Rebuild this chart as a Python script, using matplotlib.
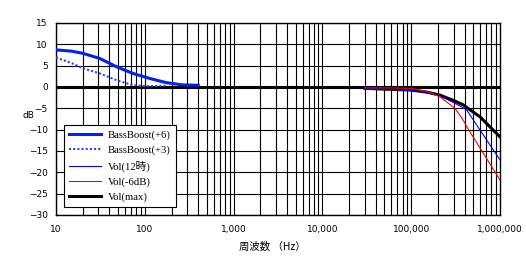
import numpy as np
import matplotlib.pyplot as plt
from matplotlib.ticker import FixedLocator, LogLocator, NullFormatter

# 低域 (BassBoost)
bb6_f = [10, 15, 20, 31, 48, 73, 114, 176, 266, 400]
bb6_db = [8.7, 8.4, 7.9, 6.7, 4.75, 3.2, 2.0, 1.0, 0.5, 0.4]
bb3_f = [10, 15, 20, 31, 48, 73, 100, 180]
bb3_db = [6.9, 5.6, 4.4, 3.2, 1.6, 0.45, 0.2, 0.3]

# 高域 (Vol)
vol_f = [30000, 50000, 97000, 150000, 211000, 311000, 386000, 422000, 596000, 1000000]
vol12_db = [-0.3, -0.5, -0.8, -1.3, -2.1, -3.8, -4.9, -5.4, -10.1, -17.1]
vol6_db = [-0.2, -0.2, -0.3, -1.0, -2.3, -5.0, -7.8, -9.3, -14.3, -21.8]
volmax_db = [-0.3, -0.5, -0.7, -1.2, -1.9, -3.3, -4.2, -4.8, -7.0, -11.7]

xtick_vals = [10, 100, 1000, 10000, 100000, 1000000]
xtick_labels = ['10', '100', '1,000', '10,000', '100,000', '1,000,000']
ytick_vals = list(range(-30, 16, 5))

fig = plt.figure(figsize=(5.26, 2.66), dpi=100)
ax = fig.add_axes([56 / 526, 1 - 215 / 266, 444 / 526, 192 / 266])

ax.set_xscale('log')
ax.set_xlim(10, 1000000)
ax.set_ylim(-30, 15)

# グリッド
for y in ytick_vals:
    ax.axhline(y, color='black', lw=0.8, zorder=1)
for dec in range(1, 6):
    for m in range(1, 10):
        ax.axvline(m * 10 ** dec, color='black', lw=0.8, zorder=1)
ax.axhline(0, color='black', lw=2.2, zorder=2)

ax.plot(bb6_f, bb6_db, color='#0022ee', lw=2.2, zorder=3, label='BassBoost(+6)')
ax.plot(bb3_f, bb3_db, color='#3344ee', lw=1.5, ls=(0, (1, 1)), zorder=3, label='BassBoost(+3)')
ax.plot(vol_f, vol12_db, color='#0000ff', lw=0.8, zorder=4, label='Vol(12時)')
ax.plot(vol_f, vol6_db, color='#ff0000', lw=0.8, zorder=4, label='Vol(-6dB)')
ax.plot(vol_f, volmax_db, color='black', lw=2.2, zorder=3, label='Vol(max)')

ax.xaxis.set_major_locator(FixedLocator(xtick_vals))
ax.set_xticklabels(xtick_labels)
ax.xaxis.set_minor_locator(LogLocator(base=10, subs=np.arange(2, 10)))
ax.xaxis.set_minor_formatter(NullFormatter())
ax.set_yticks(ytick_vals)
ax.tick_params(which='both', length=0, labelsize=6.5)
ax.tick_params(axis='x', pad=7.5)
ax.tick_params(axis='y', pad=6)
for sp in ax.spines.values():
    sp.set_color('black')
    sp.set_linewidth(1)

fig.text(28 / 526, 1 - 116 / 266, 'dB', fontsize=6.5, ha='center', va='center')
fig.text(272 / 526, 1 - 247 / 266, '周波数 （Hz）', fontsize=7.5, ha='center', va='center',
         family=['Noto Sans CJK JP', 'DejaVu Sans'])

leg = ax.legend(loc='upper left', bbox_to_anchor=((64 - 56) / 444, (215 - 125) / 192),
                borderaxespad=0, frameon=True, fancybox=False, framealpha=1,
                edgecolor='black', handlelength=3.0, handletextpad=0.6,
                labelspacing=0.5, borderpad=0.5,
                prop={'family': ['Liberation Serif', 'Noto Sans CJK JP'], 'size': 7.7})
leg.get_frame().set_linewidth(0.8)
leg.set_zorder(10)

fig.savefig('out.png', dpi=100)
